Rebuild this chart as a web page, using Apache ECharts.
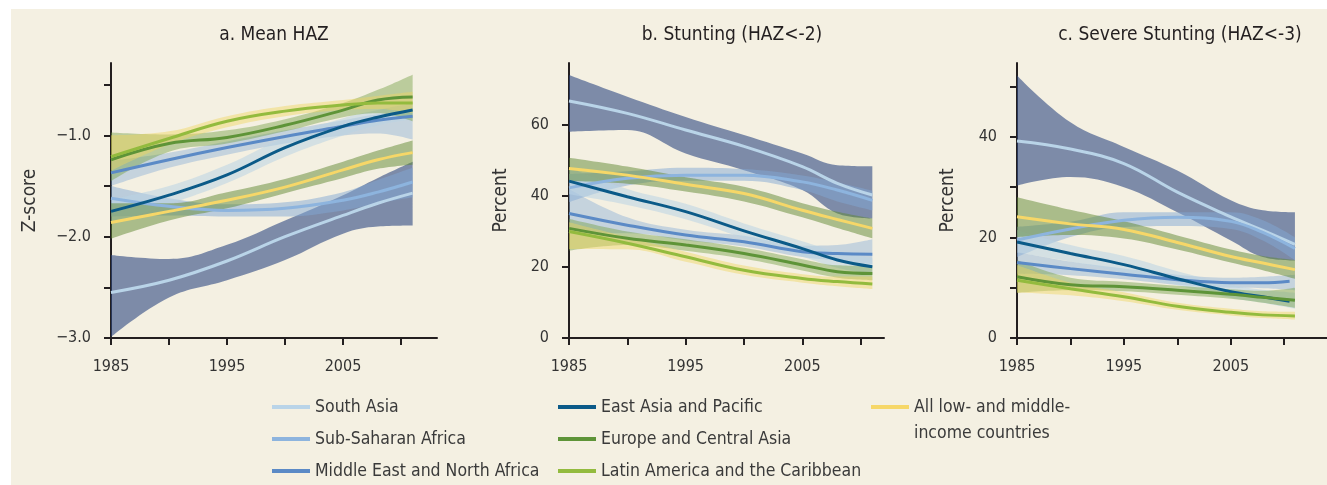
<!DOCTYPE html>
<html>
<head>
<meta charset="utf-8">
<script src="https://cdn.jsdelivr.net/npm/echarts@6/dist/echarts.min.js"></script>
<style>
  html, body { margin: 0; padding: 0; background: #fff; }
  #main {
    width: 1327px;
    height: 485px;
    background:
      linear-gradient(#fff, #fff) top left / 100% 9px no-repeat,
      linear-gradient(#fff, #fff) top left / 11px 100% no-repeat,
      #f4f0e2;
  }
</style>
</head>
<body>
<div id="main"></div>
<script>
var years = [1985, 1990, 1995, 2000, 2005, 2008, 2011];
var yearsEarlyEnd = [1985, 1990, 1995, 2000, 2005, 2008, 2010.5];
var tickYears = [1985, 1990, 1995, 2000, 2005, 2010];
var labelYears = [1985, 1995, 2005];

var regions = [
  'South Asia',
  'Sub-Saharan Africa',
  'Middle East and North Africa',
  'East Asia and Pacific',
  'Europe and Central Asia',
  'Latin America and the Caribbean',
  'All low- and middle-income countries'
];

// rows follow the order of regions
var hazLine = [
  [-2.55, -2.43, -2.24, -2.00, -1.79, -1.67, -1.57],
  [-1.62, -1.70, -1.74, -1.72, -1.64, -1.56, -1.46],
  [-1.37, -1.24, -1.12, -1.01, -0.91, -0.85, -0.81],
  [-1.75, -1.59, -1.39, -1.12, -0.91, -0.82, -0.75],
  [-1.24, -1.08, -1.02, -0.90, -0.75, -0.65, -0.62],
  [-1.21, -1.03, -0.86, -0.76, -0.70, -0.68, -0.68],
  [-1.86, -1.75, -1.64, -1.51, -1.34, -1.24, -1.17]
];
var hazLo = [
  [-2.99, -2.60, -2.43, -2.23, -1.97, -1.90, -1.89],
  [-1.80, -1.79, -1.80, -1.80, -1.74, -1.67, -1.61],
  [-1.50, -1.32, -1.19, -1.08, -1.00, -0.98, -1.04],
  [-1.87, -1.68, -1.47, -1.21, -1.00, -0.90, -0.84],
  [-1.45, -1.16, -1.08, -0.96, -0.82, -0.78, -0.86],
  [-1.35, -1.09, -0.92, -0.81, -0.75, -0.74, -0.78],
  [-2.02, -1.84, -1.72, -1.57, -1.42, -1.33, -1.29]
];
var hazHi = [
  [-2.18, -2.22, -2.08, -1.84, -1.59, -1.42, -1.26],
  [-1.50, -1.62, -1.68, -1.66, -1.56, -1.44, -1.32],
  [-1.25, -1.17, -1.06, -0.95, -0.85, -0.79, -0.77],
  [-1.63, -1.50, -1.29, -1.02, -0.83, -0.75, -0.68],
  [-0.97, -0.99, -0.95, -0.84, -0.68, -0.55, -0.40],
  [-1.00, -0.96, -0.81, -0.71, -0.65, -0.61, -0.57],
  [-1.67, -1.67, -1.56, -1.43, -1.26, -1.15, -1.05]
];

var stuntLine = [
  [66.8, 63.3, 58.6, 54.0, 48.3, 43.6, 40.3],
  [42.3, 45.0, 45.9, 45.9, 44.0, 41.7, 38.8],
  [35.1, 31.8, 29.0, 27.1, 24.3, 23.8, 23.6],
  [44.2, 39.8, 35.6, 30.2, 25.2, 22.0, 20.1],
  [30.9, 28.1, 26.2, 23.8, 20.6, 18.7, 18.2],
  [30.0, 26.7, 22.9, 19.1, 16.8, 15.9, 15.2],
  [47.8, 45.9, 43.3, 40.7, 36.0, 33.4, 30.9]
];
var stuntLo = [
  [58.1, 58.6, 52.0, 47.3, 41.7, 35.1, 33.7],
  [38.3, 43.0, 44.3, 44.3, 41.7, 38.5, 36.0],
  [29.5, 29.5, 27.5, 25.8, 22.8, 21.8, 20.8],
  [40.5, 37.5, 33.5, 28.2, 23.0, 19.8, 18.0],
  [24.6, 26.2, 24.6, 22.3, 19.0, 17.0, 16.3],
  [25.1, 25.0, 21.5, 17.8, 15.6, 14.6, 13.8],
  [44.2, 43.5, 41.3, 38.5, 34.0, 31.0, 28.1]
];
var stuntHi = [
  [74.1, 68.0, 62.3, 57.2, 52.0, 48.7, 48.4],
  [46.2, 47.0, 48.0, 47.6, 45.8, 43.8, 41.5],
  [42.0, 34.0, 30.5, 28.8, 26.0, 26.2, 27.8],
  [48.0, 42.0, 37.8, 32.3, 27.3, 24.3, 22.5],
  [33.6, 30.0, 27.8, 25.4, 22.2, 20.5, 20.3],
  [32.6, 28.4, 24.3, 20.4, 18.0, 17.3, 17.3],
  [50.8, 48.3, 45.3, 42.6, 38.0, 35.6, 33.7]
];

var severeLine = [
  [39.2, 37.6, 34.7, 29.0, 24.1, 21.4, 18.6],
  [19.5, 21.7, 23.4, 24.0, 23.2, 21.0, 17.8],
  [15.0, 13.8, 12.7, 11.6, 11.0, 11.0, 11.3],
  [19.1, 16.8, 14.6, 11.8, 9.2, 8.2, 7.3],
  [12.2, 10.6, 10.2, 9.5, 8.7, 8.1, 7.5],
  [11.5, 9.8, 8.2, 6.3, 5.1, 4.6, 4.4],
  [24.1, 22.7, 21.6, 19.0, 16.2, 14.9, 13.6]
];
var severeLo = [
  [30.3, 32.0, 30.0, 25.0, 19.4, 16.1, 15.4],
  [16.1, 20.1, 22.1, 22.3, 21.7, 19.4, 15.5],
  [12.8, 12.5, 11.7, 10.6, 10.0, 9.9, 9.5],
  [17.0, 15.2, 13.0, 10.5, 8.0, 7.0, 5.8],
  [9.0, 9.5, 9.3, 8.6, 7.8, 7.0, 6.0],
  [9.0, 8.5, 7.3, 5.6, 4.5, 4.0, 3.7],
  [20.1, 20.5, 19.8, 17.6, 15.0, 13.5, 11.8]
];
var severeHi = [
  [52.2, 42.9, 38.0, 33.3, 27.4, 25.4, 25.0],
  [22.1, 23.1, 25.0, 25.0, 25.0, 23.4, 20.0],
  [17.1, 15.2, 13.8, 12.6, 12.0, 12.2, 12.6],
  [21.5, 18.5, 16.3, 13.3, 10.6, 9.6, 9.0],
  [15.5, 12.0, 11.2, 10.4, 9.7, 9.4, 10.0],
  [14.5, 11.0, 9.1, 7.0, 5.8, 5.3, 5.2],
  [28.0, 25.5, 23.2, 20.4, 17.6, 16.3, 15.5]
];

var lineColors = ['#b9d4e8', '#8db4de', '#5b8ac6', '#0b5a88', '#5e9438', '#93bb3e', '#f6d768'];
var bandColors = [
  'rgba(45,72,130,0.6)',
  'rgba(130,168,212,0.5)',
  'rgba(140,175,215,0.45)',
  'rgba(185,212,228,0.55)',
  'rgba(118,160,72,0.45)',
  'rgba(240,212,95,0.45)',
  'rgba(95,135,50,0.5)'
];

var FONT = "'DejaVu Sans Condensed', 'DejaVu Sans', sans-serif";
var AXIS = '#231f20';
var TEXT = '#333333';

function pairs(xs, ys) {
  return xs.map(function (x, i) { return [x, ys[i]]; });
}
// value first, year second: ECharts stacks the first numeric column,
// so the bands stack on y when the columns are swapped
function bandPairs(xs, ys) {
  return xs.map(function (x, i) { return [ys[i], x]; });
}

function panelSeries(idx, line, lo, hi, earlyEnd) {
  var out = [];
  // bands first so lines sit on top
  regions.forEach(function (name, r) {
    var stack = 'band' + idx + '_' + r;
    out.push({
      type: 'line', xAxisIndex: idx, yAxisIndex: idx,
      stack: stack, stackStrategy: 'all', silent: true,
      encode: { x: 1, y: 0 },
      data: bandPairs(years, lo[r]),
      smooth: 0.4, symbol: 'none', z: 1,
      lineStyle: { opacity: 0 }
    });
    out.push({
      type: 'line', xAxisIndex: idx, yAxisIndex: idx,
      stack: stack, stackStrategy: 'all', silent: true,
      encode: { x: 1, y: 0 },
      data: bandPairs(years, hi[r].map(function (h, i) { return h - lo[r][i]; })),
      smooth: 0.4, symbol: 'none', z: 1,
      lineStyle: { opacity: 0 },
      areaStyle: { color: bandColors[r], opacity: 1 }
    });
  });
  regions.forEach(function (name, r) {
    var xs = (earlyEnd && earlyEnd.indexOf(r) >= 0) ? yearsEarlyEnd : years;
    out.push({
      type: 'line', name: name, xAxisIndex: idx, yAxisIndex: idx,
      data: pairs(xs, line[r]),
      smooth: 0.4, symbol: 'none', z: 3,
      lineStyle: { color: lineColors[r], width: 3 },
      itemStyle: { color: lineColors[r] }
    });
  });
  return out;
}

function xAxisFor(idx, max) {
  return {
    type: 'value', gridIndex: idx, min: 1985, max: max,
    axisLine: { onZero: false, lineStyle: { color: AXIS, width: 2 } },
    axisTick: { show: true, customValues: tickYears, length: 7, lineStyle: { color: AXIS, width: 2 } },
    axisLabel: {
      customValues: labelYears, fontSize: 16, color: TEXT, margin: 21, fontFamily: FONT,
      formatter: function (v) { return String(v); }
    },
    splitLine: { show: false }
  };
}

function yAxisFor(idx, min, max, ticks, labels, name, gap, fmt) {
  return {
    type: 'value', gridIndex: idx, min: min, max: max,
    name: name, nameLocation: 'middle', nameGap: gap,
    nameTextStyle: { fontSize: 19, color: TEXT, fontFamily: FONT },
    axisLine: { show: true, onZero: false, lineStyle: { color: AXIS, width: 2 } },
    axisTick: { show: true, customValues: ticks, length: 7, lineStyle: { color: AXIS, width: 2 } },
    axisLabel: { customValues: labels, fontSize: 16, color: TEXT, margin: 20, fontFamily: FONT, formatter: fmt },
    splitLine: { show: false }
  };
}

function zFormat(v) {
  return (v < 0 ? '\u2212' : '') + Math.abs(v).toFixed(1);
}
function pFormat(v) {
  return String(Math.round(v));
}

var legendText = { fontSize: 17.5, color: '#3a3a3a', fontFamily: FONT, lineHeight: 26 };
function legendAt(left, names) {
  return {
    orient: 'vertical', left: left, top: 394, padding: 0,
    itemGap: 6, itemWidth: 38, itemHeight: 4, icon: 'rect',
    selectedMode: false, data: names, textStyle: legendText,
    formatter: function (n) { return n === regions[6] ? 'All low- and middle-' : n; }
  };
}

function titleAt(left, text) {
  return {
    text: text, left: left, top: 26, textAlign: 'center', padding: 0,
    textStyle: { fontSize: 19, fontWeight: 'normal', color: AXIS, fontFamily: FONT }
  };
}

var chart = echarts.init(document.getElementById('main'), null, { renderer: 'canvas' });

var option = {
  animation: false,
  backgroundColor: 'transparent',
  title: [
    titleAt(274, 'a. Mean HAZ'),
    titleAt(732, 'b. Stunting (HAZ<-2)'),
    titleAt(1180, 'c. Severe Stunting (HAZ<-3)')
  ],
  legend: [
    legendAt(272, regions.slice(0, 3)),
    legendAt(558, regions.slice(3, 6)),
    legendAt(871, [regions[6]])
  ],
  graphic: [{
    type: 'text', left: 914, top: 424,
    style: { text: 'income countries', fontSize: 17.5, fill: '#3a3a3a', fontFamily: FONT }
  }],
  grid: [
    { left: 111, top: 63, width: 326, height: 275 },
    { left: 569, top: 63, width: 315, height: 275 },
    { left: 1017, top: 63, width: 336, height: 275 }
  ],
  xAxis: [
    xAxisFor(0, 2013.1),
    xAxisFor(1, 2012),
    xAxisFor(2, 2014)
  ],
  yAxis: [
    yAxisFor(0, -3, -0.285, [-3, -2.5, -2, -1.5, -1, -0.5], [-3, -2, -1], 'Z-score', 71, zFormat),
    yAxisFor(1, 0, 77.5, [0, 20, 40, 60], [0, 20, 40, 60], 'Percent', 58, pFormat),
    yAxisFor(2, 0, 54.7, [0, 10, 20, 30, 40, 50], [0, 20, 40], 'Percent', 59, pFormat)
  ],
  series: []
    .concat(panelSeries(0, hazLine, hazLo, hazHi))
    .concat(panelSeries(1, stuntLine, stuntLo, stuntHi))
    .concat(panelSeries(2, severeLine, severeLo, severeHi, [2, 3]))
};

chart.setOption(option);
window.addEventListener('resize', chart.resize);
</script>
</body>
</html>
